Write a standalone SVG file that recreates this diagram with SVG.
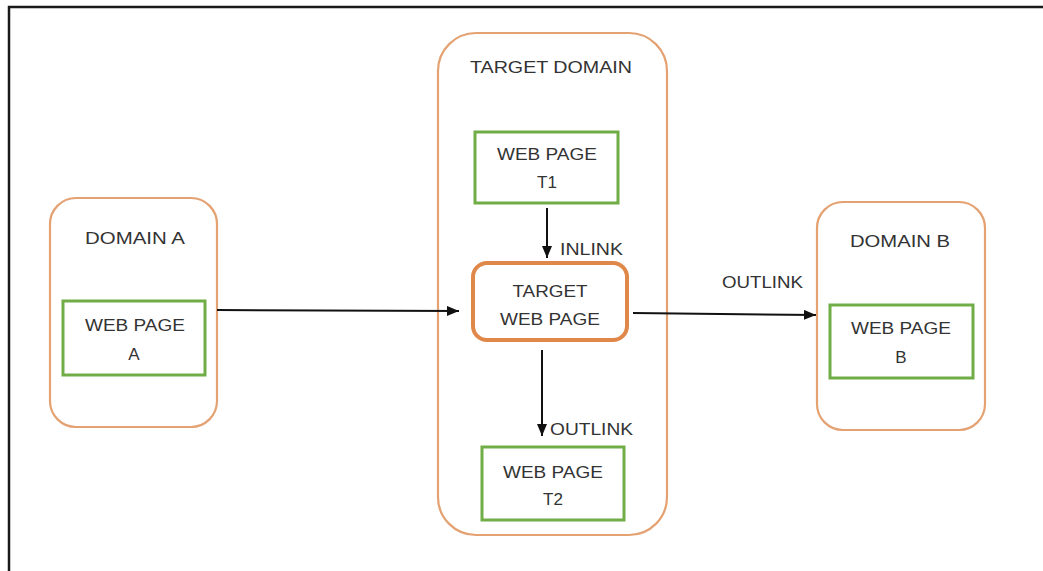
<svg xmlns="http://www.w3.org/2000/svg" width="1043" height="571" viewBox="0 0 1043 571">
<defs>
<marker id="ah" markerWidth="12" markerHeight="10" refX="12" refY="5" orient="auto" markerUnits="userSpaceOnUse">
<path d="M0,0 L12,5 L0,10 Z" fill="#111"/>
</marker>
<style>
.dom{fill:#fff;stroke:#E4A171;stroke-width:2.2}
.tgt{fill:#fff;stroke:#E0884A;stroke-width:4}
.pg{fill:#fff;stroke:#70AD47;stroke-width:3}
.t{font-family:"Liberation Sans",Arial,sans-serif;font-size:17px;fill:#333;text-anchor:middle}
.l{font-family:"Liberation Sans",Arial,sans-serif;font-size:17px;fill:#333}
.c{stroke:#111;stroke-width:2;fill:none;marker-end:url(#ah)}
</style>
</defs>
<rect width="1043" height="571" fill="#fff"/>
<path d="M9,600 L9,7 L1050,7" fill="none" stroke="#1a1a1a" stroke-width="2.5"/>

<g id="domainA">
<rect class="dom" x="50" y="198" width="167" height="229" rx="26"/>
<text class="t" x="135" y="244" textLength="100" lengthAdjust="spacingAndGlyphs">DOMAIN A</text>
</g>
<g id="pageA">
<rect class="pg" x="63" y="301" width="142" height="74"/>
<text class="t" x="135" y="331" textLength="100" lengthAdjust="spacingAndGlyphs">WEB PAGE</text>
<text class="t" x="134" y="360">A</text>
</g>

<g id="targetDomain">
<rect class="dom" x="438" y="33" width="229" height="502" rx="38"/>
<text class="t" x="551" y="73" textLength="162" lengthAdjust="spacingAndGlyphs">TARGET DOMAIN</text>
</g>
<g id="pageT1">
<rect class="pg" x="475" y="132" width="143" height="71"/>
<text class="t" x="547" y="160" textLength="100" lengthAdjust="spacingAndGlyphs">WEB PAGE</text>
<text class="t" x="547" y="188">T1</text>
</g>
<g id="targetPage">
<rect class="tgt" x="473" y="263" width="154" height="77" rx="14"/>
<text class="t" x="550" y="297" textLength="75" lengthAdjust="spacingAndGlyphs">TARGET</text>
<text class="t" x="550" y="325" textLength="100" lengthAdjust="spacingAndGlyphs">WEB PAGE</text>
</g>
<g id="pageT2">
<rect class="pg" x="482" y="447" width="142" height="73"/>
<text class="t" x="553" y="478" textLength="100" lengthAdjust="spacingAndGlyphs">WEB PAGE</text>
<text class="t" x="553" y="505">T2</text>
</g>

<g id="domainB">
<rect class="dom" x="817" y="202" width="168" height="228" rx="26"/>
<text class="t" x="900" y="247" textLength="100" lengthAdjust="spacingAndGlyphs">DOMAIN B</text>
</g>
<g id="pageB">
<rect class="pg" x="830" y="305" width="143" height="73"/>
<text class="t" x="901" y="334" textLength="100" lengthAdjust="spacingAndGlyphs">WEB PAGE</text>
<text class="t" x="901" y="363">B</text>
</g>

<g id="connectors">
<line class="c" x1="217" y1="310" x2="459" y2="311"/>
<line class="c" x1="547" y1="208" x2="547" y2="258"/>
<line class="c" x1="542" y1="350" x2="542" y2="436"/>
<line class="c" x1="633" y1="313" x2="816" y2="315"/>
<text class="l" x="560" y="255" textLength="63" lengthAdjust="spacingAndGlyphs">INLINK</text>
<text class="l" x="550" y="435" textLength="83" lengthAdjust="spacingAndGlyphs">OUTLINK</text>
<text class="l" x="722" y="288" textLength="81" lengthAdjust="spacingAndGlyphs">OUTLINK</text>
</g>
</svg>
